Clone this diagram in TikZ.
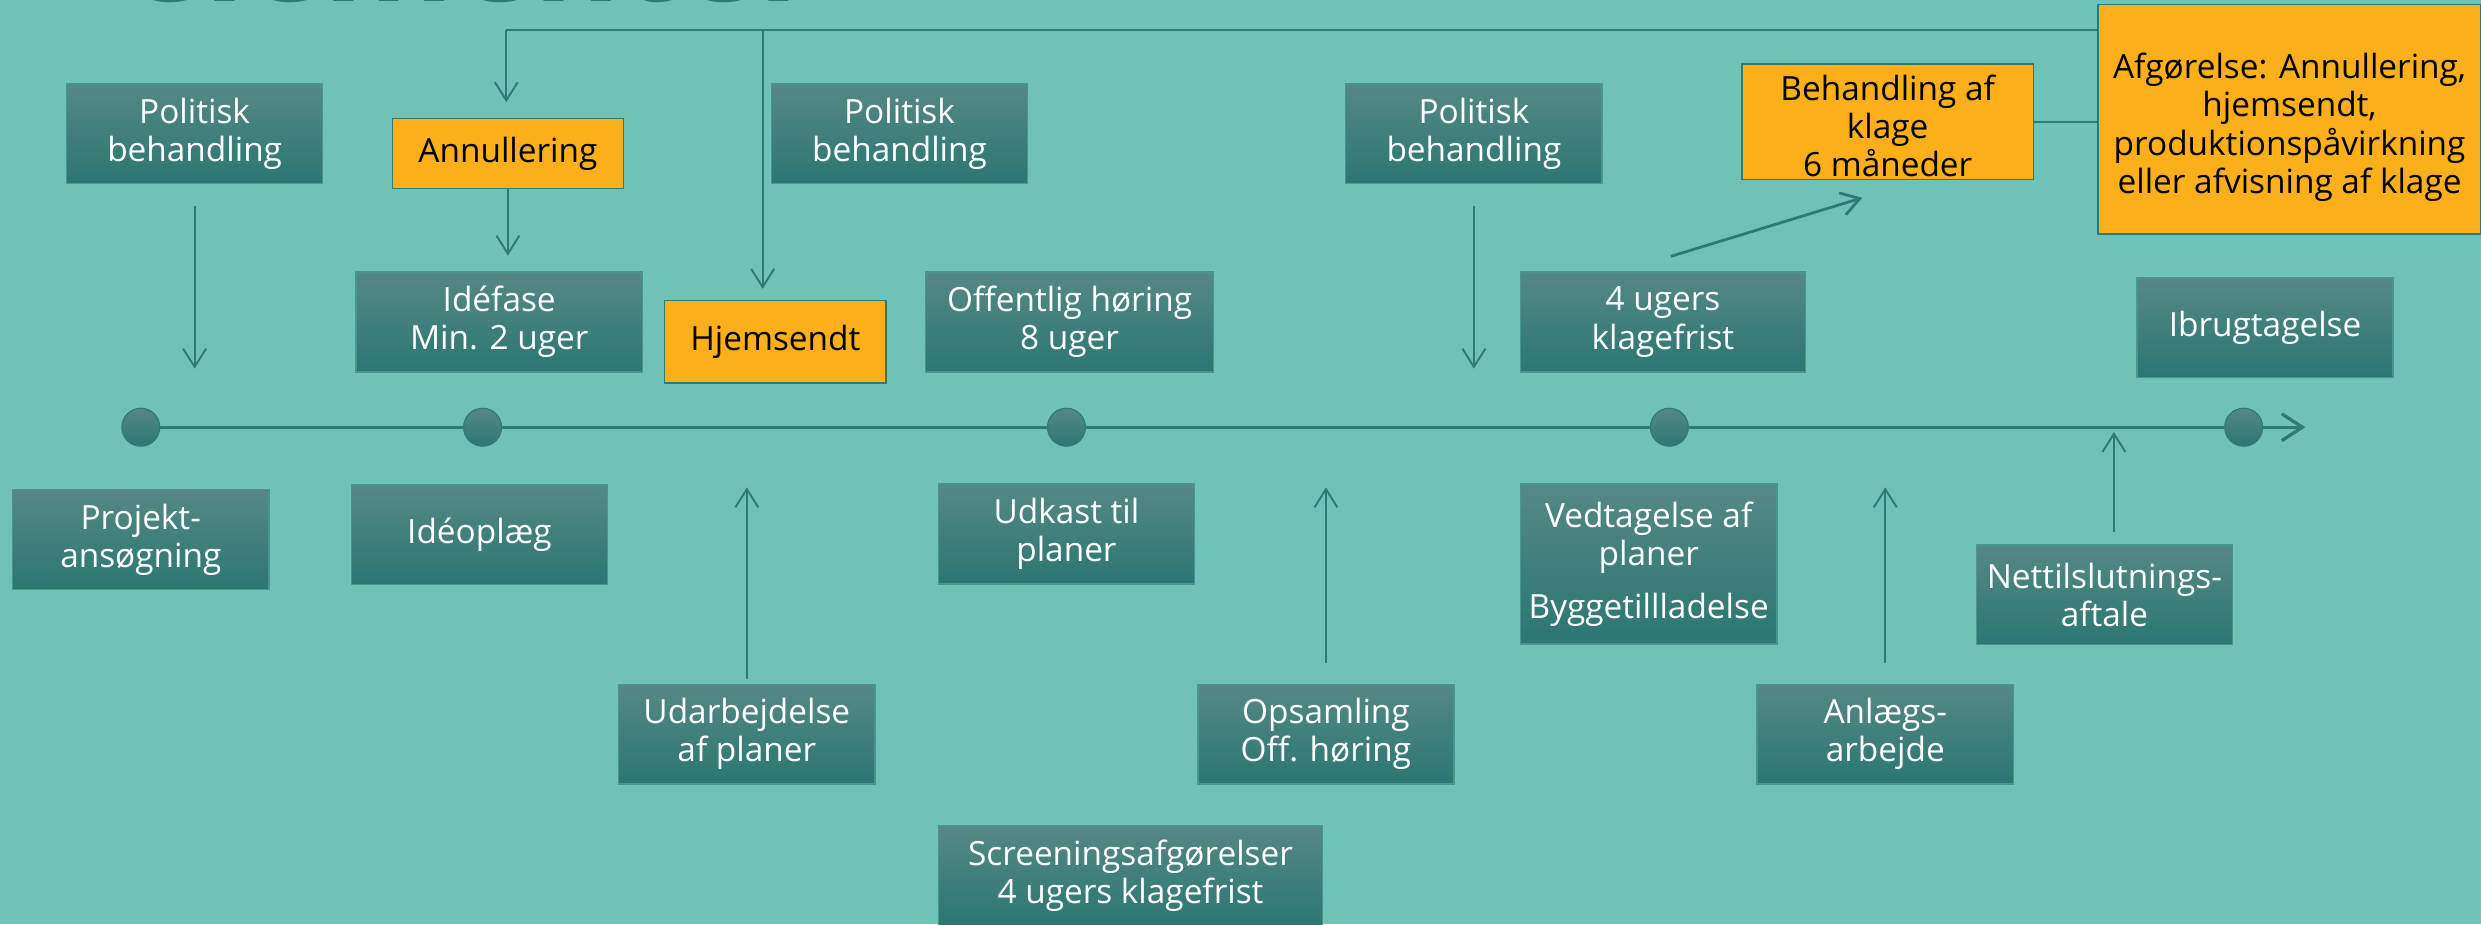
\documentclass[tikz,border=0pt]{standalone}
\usepackage{fontspec}
\setmainfont{Open Sans}
\usepackage{tikz}
\usetikzlibrary{positioning,arrows.meta}
\definecolor{bgteal}{HTML}{6FC3B6}
\definecolor{boxtop}{HTML}{568884}
\definecolor{boxbottom}{HTML}{2B7772}
\definecolor{linedark}{HTML}{2E7A75}
\definecolor{amber}{HTML}{FBB01B}

\begin{document}
\begin{tikzpicture}[x=0.02cm, y=-0.02cm,
    box/.style={rectangle, draw=linedark!60!bgteal, line width=0.5pt, top color=boxtop, bottom color=boxbottom, text=white, minimum width=3.24cm, minimum height=1.26cm, inner sep=1pt, align=center, font=\fontsize{12}{13.7}\selectfont},
    alertbox/.style={rectangle, draw=linedark, line width=0.5pt, fill=amber, text=black, inner sep=1pt, align=center, font=\fontsize{12}{13.7}\selectfont},
    dot/.style={circle, draw=linedark, line width=0.4pt, top color=boxtop, bottom color=boxbottom, minimum size=0.48cm, inner sep=0pt},
    link/.style={draw=linedark, line width=0.6pt},
    flow/.style={draw=linedark, line width=0.7pt, -{Straight Barb[length=2.3mm, width=2.9mm]}},
    timeline/.style={draw=linedark, line width=1.2pt, -{Straight Barb[length=2.6mm, width=3.4mm]}},
    title/.style={anchor=base west, text=linedark, inner sep=0pt, font=\fontsize{48}{50}\selectfont\bfseries},
]

% Background
\fill[bgteal] (0,0) rectangle (1568,584);
\useasboundingbox (0,0) rectangle (1568,584);

% Title, cut by the page edge
\node[title] (heading) at (79,1.2) {elementer};

% Row 1 - Top boxes
\node[box] (polA) at (123,84.5) {Politisk\\behandling};
\node[alertbox, minimum width=2.92cm, minimum height=0.88cm] (annul) at (321,97) {Annullering};
\node[box] (polB) at (568.5,84.5) {Politisk\\behandling};
\node[box] (polC) at (931.5,84.5) {Politisk\\behandling};
\node[alertbox, minimum width=3.68cm, minimum height=1.4cm] (klage) at (1193,77) {\rule{0pt}{0.42cm}Behandling af\\klage\\6 måneder};
\node[alertbox, minimum width=4.84cm, minimum height=2.9cm] (afg) at (1447,75.5) {\rule{0pt}{0.52cm}Afgørelse: Annullering,\\hjemsendt,\\produktionspåvirkning\\eller afvisning af klage};

% Row 2 - Boxes above the timeline
\node[box, minimum width=3.62cm] (idefase) at (315.5,203.5) {Idéfase\\Min. 2 uger};
\node[alertbox, minimum width=2.8cm, minimum height=1.04cm] (hjem) at (490,216) {Hjemsendt};
\node[box, minimum width=3.64cm] (hoering) at (676,203.5) {Offentlig høring\\8 uger};
\node[box, minimum width=3.6cm] (frist) at (1051,203.5) {4 ugers\\klagefrist};
\node[box] (ibrug) at (1431.5,207) {Ibrugtagelse};

% Timeline
\node[dot] (d1) at (89,270) {};
\node[dot] (d2) at (305,270) {};
\node[dot] (d3) at (674,270) {};
\node[dot] (d4) at (1055,270) {};
\node[dot] (d5) at (1418,270) {};
\coordinate (tlend) at (1457,270);
\draw[timeline] (d1) -- (d2) -- (d3) -- (d4) -- (d5) -- (tlend);

% Row 3 - Boxes below the timeline
\node[box] (projekt) at (89,341) {Projekt-\\ansøgning};
\node[box] (ideoplaeg) at (303,338) {Idéoplæg};
\node[box] (udkast) at (674,337.5) {Udkast til\\planer};
\node[box, minimum height=2.02cm] (vedtag) at (1042,356.5) {Vedtagelse af\\planer\\[0.18cm]Byggetillladelse};
\node[box] (nettil) at (1330,376) {Nettilslutnings-\\aftale};

% Row 4 - Bottom boxes
\node[box] (udarb) at (472,464) {Udarbejdelse\\af planer};
\node[box] (opsaml) at (838,464) {Opsamling\\Off. høring};
\node[box] (anlaeg) at (1191.5,464) {Anlægs-\\arbejde};
\node[box, minimum width=4.86cm] (screen) at (714.5,553.5) {Screeningsafgørelser\\4 ugers klagefrist};

% Arrow ends
\coordinate (toprail) at (320,19);
\coordinate (hjemdrop) at (482,19);
\coordinate (downtip) at (0,233);
\coordinate (uptip) at (0,308);
\coordinate (gridtip) at (1336,273);
\coordinate (appealfrom) at (1056,162);
\coordinate (appealto) at (1177,125);

% Connectors
\draw[link] (afg.west |- toprail) -- (toprail);
\draw[flow, shorten >=0.2cm] (toprail) -- (toprail |- annul.north);
\draw[flow, shorten >=0.14cm] (hjemdrop) -- (hjemdrop |- hjem.north);
\draw[flow, shorten >=0.2cm] (annul) -- (annul |- idefase.north);
\draw[flow, shorten <=0.28cm] (polA) -- (polA |- downtip);
\draw[flow, shorten <=0.28cm] (polC) -- (polC |- downtip);
\draw[link] (klage.east) -- (klage.east -| afg.west);
\draw[flow, line width=1pt] (appealfrom) -- (appealto);
\draw[flow, shorten <=0.06cm] (udarb) -- (udarb |- uptip);
\draw[flow, shorten <=0.26cm] (opsaml) -- (opsaml |- uptip);
\draw[flow, shorten <=0.26cm] (anlaeg) -- (anlaeg |- uptip);
\draw[flow, shorten <=0.16cm] (nettil.north -| gridtip) -- (gridtip);

\end{tikzpicture}
\end{document}
